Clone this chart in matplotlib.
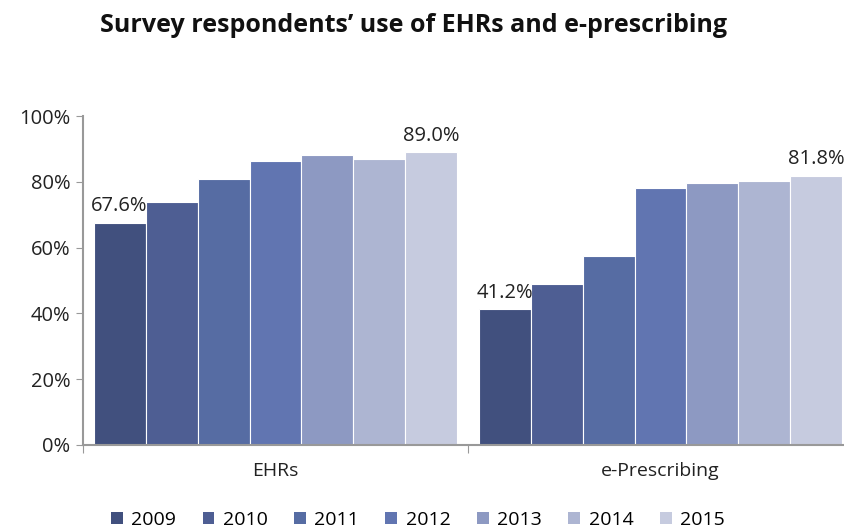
import matplotlib.pyplot as plt
import numpy as np
from matplotlib.patches import Patch

plt.rcParams['font.family'] = ['Open Sans', 'DejaVu Sans']

categories = ['EHRs', 'e-Prescribing']
years = ['2009', '2010', '2011', '2012', '2013', '2014', '2015']
ehrs = [67.6, 74.0, 81.0, 86.2, 88.2, 86.9, 89.0]
erx = [41.2, 49.0, 57.3, 78.0, 79.7, 80.1, 81.8]
colors = ['#41507e', '#4e5e93', '#566ca3', '#6175b1', '#8d99c2', '#adb5d2', '#c6cbdf']
labelled = [0, 6]

fig = plt.figure(figsize=(8.45, 5.31), dpi=100)
ax = fig.add_axes([83/845, 86/531, 770/845, 329/531])

series = np.array([ehrs, erx])  # shape (2, 7)
n = len(years)
bw = 0.135
centers = np.arange(len(categories)) + 0.5
for i in range(n):
    xs = centers + (i - (n - 1) / 2) * bw
    ax.bar(xs, series[:, i], width=bw, color=colors[i], edgecolor='white',
           linewidth=0.8, label=years[i])
    if i in labelled:
        for x, v in zip(xs, series[:, i]):
            ax.text(x, v + 2.0, f'{v:.1f}%', ha='center', va='bottom',
                    fontsize=14.5, color='#222222')

ax.set_xlim(0, 2)
ax.set_ylim(0, 100)
ax.set_yticks(np.arange(0, 101, 20))
ax.set_yticklabels([f'{t}%' for t in range(0, 101, 20)], fontsize=14.5, color='#222222')
ax.set_xticks([0, 1, 2])
ax.set_xticklabels([])
ax.set_xticks(centers, minor=True)
ax.set_xticklabels(categories, minor=True, fontsize=14, color='#222222')
ax.tick_params(axis='x', which='minor', length=0, pad=12)
ax.tick_params(axis='x', which='major', length=6, color='#999999', direction='out')
ax.tick_params(axis='y', length=5, color='#999999', direction='out', pad=4)
for s in ['top', 'right']:
    ax.spines[s].set_visible(False)
for s in ['left', 'bottom']:
    ax.spines[s].set_color('#999999')
    ax.spines[s].set_linewidth(1.5)

fig.text(414/845, 1 - 25/531, 'Survey respondents\u2019 use of EHRs and e-prescribing',
         ha='center', va='center', fontsize=18, fontweight='bold', color='#111111')

handles = [Patch(facecolor=c, edgecolor='none') for c in colors]
fig.legend(handles, years, loc='center', bbox_to_anchor=(418/845, 1 - 520/531),
           ncol=7, frameon=False, fontsize=14, handlelength=0.6, handleheight=0.6,
           handletextpad=0.45, columnspacing=1.35)

fig.savefig('out.png', dpi=100)
